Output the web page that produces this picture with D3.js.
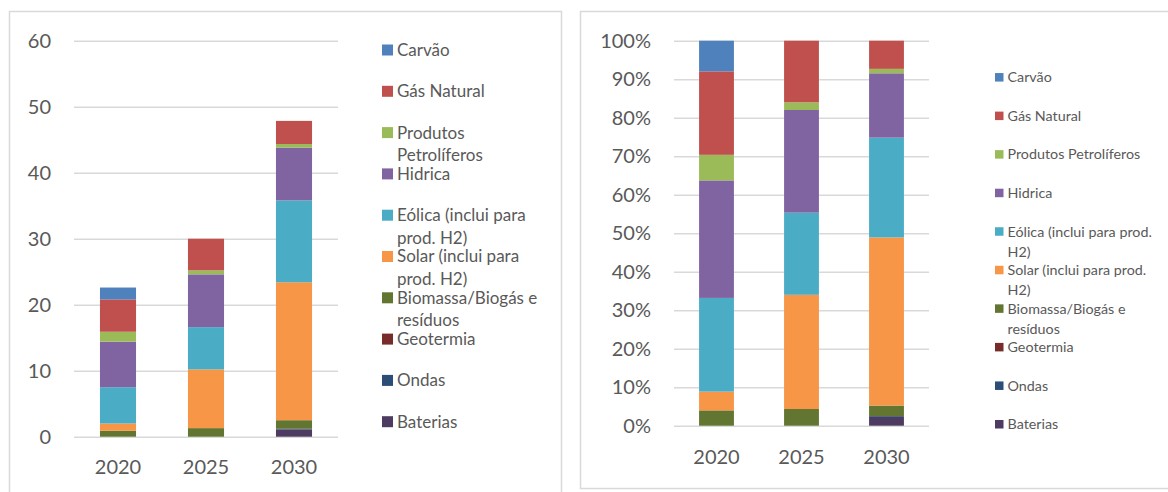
<!DOCTYPE html>
<html><head><meta charset="utf-8">
<script src="https://cdn.jsdelivr.net/npm/d3@7"></script>
<style>
html,body{margin:0;padding:0;background:#fff;}
svg{display:block;}
text{font-family:Lato,"Open Sans",sans-serif;fill:#595959;}
</style></head>
<body>
<svg id="chart" width="1168" height="492"></svg>
<script>
// ---- data ----
const years = ["2020", "2025", "2030"];
const seriesNames = ["Carvão", "Gás Natural", "Produtos Petrolíferos", "Hidrica",
  "Eólica (inclui para prod. H2)", "Solar (inclui para prod. H2)",
  "Biomassa/Biogás e resíduos", "Geotermia", "Ondas", "Baterias"];
const carvao    = [1.8, 0, 0];
const gasNatural = [4.9, 4.8, 3.5];
const petroliferos = [1.5, 0.6, 0.55];
const hidrica   = [6.9, 8.0, 8.0];
const eolica    = [5.5, 6.4, 12.4];
const solar     = [1.1, 8.9, 20.9];
const biomassa  = [0.9, 1.3, 1.3];
const geotermia = [0, 0, 0];
const ondas     = [0, 0, 0.1];
const baterias  = [0, 0, 1.1];
const leftTicks = [0, 10, 20, 30, 40, 50, 60];
const rightTicks = [0, 0.1, 0.2, 0.3, 0.4, 0.5, 0.6, 0.7, 0.8, 0.9, 1.0];
const colors = ["#4F81BD", "#C0504D", "#9BBB59", "#8064A2", "#4BACC6", "#F79646",
  "#627531", "#772C2A", "#2C4D75", "#4D3B62"];

const seriesValues = [carvao, gasNatural, petroliferos, hidrica, eolica, solar,
  biomassa, geotermia, ondas, baterias];
const table = years.map((y, i) => {
  const row = {year: y};
  seriesNames.forEach((s, k) => row[s] = seriesValues[k][i]);
  return row;
});
const color = d3.scaleOrdinal().domain(seriesNames).range(colors);
const stackKeys = seriesNames.slice().reverse();

const svg = d3.select("#chart");

// frames
svg.append("rect").attr("x", 9.5).attr("y", 11.5).attr("width", 552).attr("height", 500)
  .attr("fill", "none").attr("stroke", "#d9d9d9").attr("stroke-width", 1.5);
svg.append("rect").attr("x", 580.5).attr("y", 11.5).attr("width", 600).attr("height", 477)
  .attr("fill", "none").attr("stroke", "#d9d9d9").attr("stroke-width", 1.5);

function drawPanel(opt) {
  const g = svg.append("g");
  const x = d3.scaleBand().domain(years).range([opt.x0, opt.x1])
    .paddingInner(0.59).paddingOuter(0.295);
  const y = d3.scaleLinear().domain(opt.domain).range([opt.y0, opt.y1]);
  const stack = d3.stack().keys(stackKeys);
  if (opt.expand) stack.offset(d3.stackOffsetExpand);
  const layers = stack(table);

  // grid
  const yAxis = d3.axisLeft(y).tickValues(opt.ticks).tickSize(-(opt.x1 - opt.x0))
    .tickFormat(opt.fmt).tickPadding(opt.x0 - opt.labelX);
  const ga = g.append("g").attr("transform", `translate(${opt.x0},0)`).call(yAxis);
  ga.select(".domain").remove();
  ga.selectAll(".tick line").attr("stroke", "#d9d9d9").attr("stroke-width", 1.4);
  ga.selectAll(".tick text").attr("font-size", 20).attr("fill", "#595959")
    .style("font-family", "Lato");

  // bars
  g.selectAll("g.layer").data(layers).join("g").attr("class", "layer")
    .attr("fill", d => color(d.key))
    .selectAll("rect").data(d => d).join("rect")
    .attr("x", d => x(d.data.year))
    .attr("width", x.bandwidth())
    .attr("y", d => y(d[1]))
    .attr("height", d => Math.max(0, y(d[0]) - y(d[1])));

  // x axis labels
  const xAxis = d3.axisBottom(x).tickSize(0).tickPadding(0);
  const gx = g.append("g").attr("transform", `translate(0,${opt.xLabelY})`).call(xAxis);
  gx.select(".domain").remove();
  gx.selectAll(".tick text").attr("font-size", 20).attr("fill", "#595959")
    .attr("dy", "0.35em").attr("y", 0).style("font-family", "Lato");

  // legend
  const lg = g.append("g");
  seriesNames.forEach((name, i) => {
    const cy = opt.legY0 + i * opt.legStep;
    lg.append("rect").attr("x", opt.legX).attr("y", cy - opt.sq / 2)
      .attr("width", opt.sq).attr("height", opt.sq).attr("fill", color(name));
    const t = lg.append("text").attr("x", opt.legTextX).attr("y", cy)
      .attr("dy", "0.35em").attr("font-size", opt.legFont);
    // word wrap
    const words = name.split(" ");
    let line = [], lineNo = 0;
    let tspan = t.append("tspan").attr("x", opt.legTextX).attr("y", cy).attr("dy", "0.35em");
    words.forEach(w => {
      line.push(w);
      tspan.text(line.join(" "));
      if (tspan.node().getComputedTextLength() > opt.legMaxW && line.length > 1) {
        line.pop();
        tspan.text(line.join(" "));
        line = [w];
        lineNo++;
        tspan = t.append("tspan").attr("x", opt.legTextX)
          .attr("y", cy + lineNo * opt.lineH).attr("dy", "0.35em").text(w);
      }
    });
  });
}

drawPanel({
  x0: 74, x1: 338, y0: 436.7, y1: 40.7, domain: [0, 60], ticks: leftTicks,
  fmt: d3.format("d"), labelX: 51, xLabelY: 467, expand: false,
  legX: 382, legTextX: 397, legY0: 50, legStep: 41.3, sq: 11, legFont: 17,
  legMaxW: 150, lineH: 22.5
});
drawPanel({
  x0: 674, x1: 929, y0: 425.7, y1: 40.7, domain: [0, 1], ticks: rightTicks,
  fmt: d3.format(".0%"), labelX: 651, xLabelY: 456.7, expand: true,
  legX: 995, legTextX: 1007.5, legY0: 77.3, legStep: 38.55, sq: 8.5, legFont: 14.3,
  legMaxW: 156, lineH: 20
});
</script>
</body></html>
